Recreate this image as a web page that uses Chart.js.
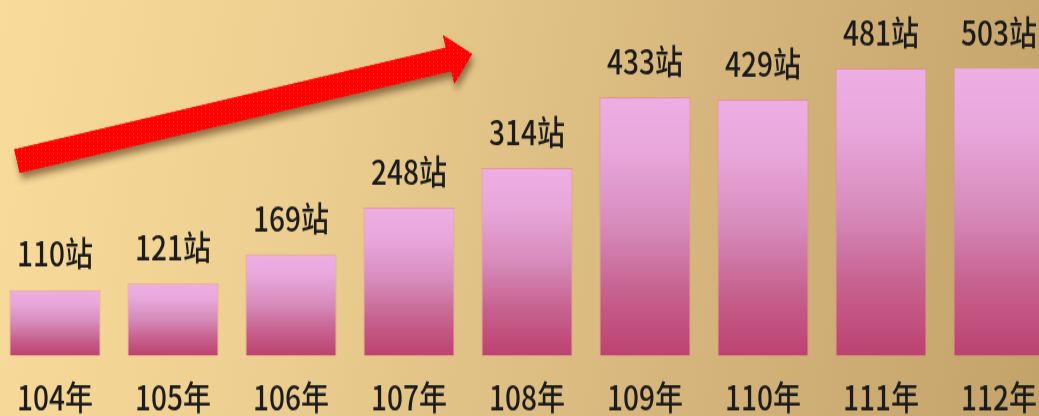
<!DOCTYPE html>
<html>
<head>
<meta charset="utf-8">
<script src="https://cdn.jsdelivr.net/npm/chart.js@4"></script>
<style>
  html, body { margin: 0; padding: 0; }
  body {
    width: 1039px; height: 416px; overflow: hidden; position: relative;
    background: linear-gradient(100deg, #f9dc9b 0%, #ecce90 30%, #d6b67c 65%, #c3a369 100%);
  }
  /* source picture is stretched vertically, so stretch the canvas the same way */
  #wrap {
    position: absolute; left: -4px; top: 0;
    width: 1062px; height: 366px;
    transform: scaleY(1.2); transform-origin: 0 0;
  }
</style>
</head>
<body>
<div id="wrap"><canvas id="stationChart"></canvas></div>
<script>
  // data
  const years = ['104年', '105年', '106年', '107年', '108年', '109年', '110年', '111年', '112年'];
  const stations = [110, 121, 169, 248, 314, 433, 429, 481, 503];
  const unit = '站';
  const yTop = 481; // top bar is cut off at the same height as 481 in the picture

  const STRETCH = 1.2;
  const fontFamily = '"Noto Sans CJK TC", "Noto Sans", sans-serif';

  // gradient for each bar, from its own top down to the base
  function barFill(ctx) {
    const chart = ctx.chart;
    const area = chart.chartArea;
    if (!area) return '#dc98c8';
    const y = chart.scales.y;
    const top = Math.max(y.getPixelForValue(ctx.raw), area.top);
    const bottom = y.getPixelForValue(0);
    const g = chart.ctx.createLinearGradient(0, top, 0, bottom);
    g.addColorStop(0, '#edaee3');
    g.addColorStop(0.2, '#e9a8dc');
    g.addColorStop(0.5, '#d68bbb');
    g.addColorStop(0.75, '#c7628f');
    g.addColorStop(1, '#bd426f');
    return g;
  }

  // value labels above the bars
  const valueLabels = {
    id: 'valueLabels',
    afterDatasetsDraw(chart) {
      const ctx = chart.ctx;
      const area = chart.chartArea;
      const meta = chart.getDatasetMeta(0);
      ctx.save();
      ctx.font = '500 28px ' + fontFamily;
      ctx.fillStyle = '#1b1b1b';
      ctx.textAlign = 'center';
      ctx.textBaseline = 'middle';
      meta.data.forEach(function (bar, i) {
        const top = Math.max(bar.y, area.top);
        ctx.fillText(stations[i] + unit, bar.x, top - 30);
      });
      ctx.restore();
    }
  };

  // red dotted arrow, in picture pixels
  const trendArrow = {
    id: 'trendArrow',
    afterDraw(chart) {
      const ctx = chart.ctx;
      const tail = [17, 161], tip = [472, 54];
      const shaftW = 24, headW = 50, headL = 24;
      const dx = tip[0] - tail[0], dy = tip[1] - tail[1];
      const len = Math.sqrt(dx * dx + dy * dy);
      const ux = dx / len, uy = dy / len;
      const nx = -uy, ny = ux;
      const bx = tip[0] - ux * headL, by = tip[1] - uy * headL;
      const pts = [
        [tail[0] + nx * shaftW / 2, tail[1] + ny * shaftW / 2],
        [bx + nx * shaftW / 2, by + ny * shaftW / 2],
        [bx + nx * headW / 2, by + ny * headW / 2],
        tip,
        [bx - nx * headW / 2, by - ny * headW / 2],
        [bx - nx * shaftW / 2, by - ny * shaftW / 2],
        [tail[0] - nx * shaftW / 2, tail[1] - ny * shaftW / 2]
      ];

      const pc = document.createElement('canvas');
      pc.width = 4; pc.height = 4;
      const p = pc.getContext('2d');
      p.fillStyle = '#ff0000';
      p.fillRect(0, 0, 4, 4);
      p.fillStyle = '#ff4a4a';
      p.fillRect(1, 1, 1, 1);

      ctx.save();
      ctx.scale(1, 1 / STRETCH);
      ctx.translate(4, 0);
      ctx.beginPath();
      pts.forEach(function (pt, i) {
        if (i === 0) ctx.moveTo(pt[0], pt[1]); else ctx.lineTo(pt[0], pt[1]);
      });
      ctx.closePath();
      ctx.shadowColor = 'rgba(60,30,0,0.55)';
      ctx.shadowBlur = 6;
      ctx.shadowOffsetX = 2;
      ctx.shadowOffsetY = 5;
      ctx.fillStyle = '#ff0000';
      ctx.fill();
      ctx.shadowColor = 'transparent';
      ctx.fillStyle = ctx.createPattern(pc, 'repeat');
      ctx.fill();
      ctx.restore();
    }
  };

  new Chart(document.getElementById('stationChart'), {
    type: 'bar',
    data: {
      labels: years,
      datasets: [{
        data: stations,
        backgroundColor: barFill,
        borderColor: 'rgba(232,130,160,0.7)',
        borderWidth: 1,
        categoryPercentage: 1,
        barPercentage: 0.771
      }]
    },
    options: {
      responsive: true,
      maintainAspectRatio: false,
      animation: false,
      layout: { padding: { top: 57, left: 0, right: 0, bottom: 0 } },
      plugins: {
        legend: { display: false },
        tooltip: { enabled: false }
      },
      scales: {
        x: {
          grid: { display: false, drawTicks: false },
          border: { display: false },
          ticks: {
            color: '#1b1b1b',
            padding: 18,
            font: { family: fontFamily, size: 28, weight: '500', lineHeight: 1.2 }
          }
        },
        y: {
          display: false,
          min: 0,
          max: yTop
        }
      }
    },
    plugins: [valueLabels, trendArrow]
  });
</script>
</body>
</html>
